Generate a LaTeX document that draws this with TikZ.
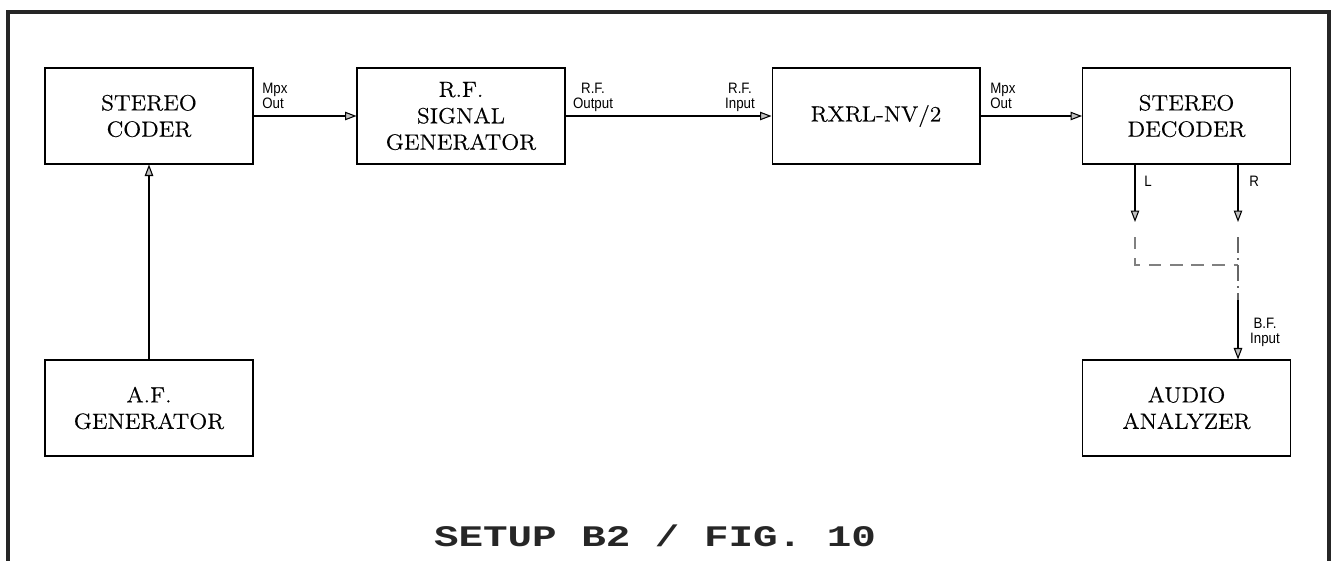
\documentclass[tikz,border=0pt]{standalone}
\usepackage{fontspec}
\newfontfamily\unitfont{Latin Modern Roman}[FakeStretch=1.07, FakeBold=0.4]
\newfontfamily\labelfont{Liberation Sans}[FakeStretch=0.88]
\newfontfamily\titlefont{Liberation Mono}
\usetikzlibrary{calc, positioning}
\usetikzlibrary{arrows.meta}

\tikzset{
  unit/.style={draw, line width=0.6pt, minimum width=4.16cm, minimum height=1.92cm,
    align=center, font=\unitfont\fontsize{12.5}{15}\selectfont},
  sig/.style={-{Triangle[length=2.3mm, width=1.7mm, fill=gray!50]}, line width=0.6pt},
  tag/.style={font=\labelfont\fontsize{8.6}{8.6}\selectfont, inner sep=0pt}
}

\begin{document}
\begin{tikzpicture}[x=0.02cm, y=-0.02cm]
\useasboundingbox (0,0) rectangle (1335,561);
% frame
\draw[line width=1.8pt, black!85] (8,561) -- (8,12) -- (1329,12) -- (1329,561);

% units
\node[unit] (coder) at (149,116) {STEREO\\CODER};
\node[unit] (rfgen) at (461,116) {R.F.\\SIGNAL\\GENERATOR};
\node[unit] (rx) at (876,116) {RXRL-NV/2};
\node[unit] (decoder) at (1186.5,116) {STEREO\\DECODER};
\node[unit] (afgen) at (149,408) {A.F.\\GENERATOR};
\node[unit] (analyzer) at (1186.5,408) {AUDIO\\ANALYZER};

% signal path
\draw[sig] (afgen) -- (coder);
\draw[sig] (coder) -- (rfgen);
\draw[sig] (rfgen) -- (rx);
\draw[sig] (rx) -- (decoder);

\node[tag, anchor=north west, align=left] (mpx1) at (262,83) {Mpx\\Out};
\node[tag, anchor=north, align=center] (rfout) at (593,83) {R.F.\\Output};
\node[tag, anchor=north, align=center] (rfin) at (740,83) {R.F.\\Input};
\node[tag, anchor=north west, align=left] (mpx2) at (990,83) {Mpx\\Out};

% L / R outputs
\coordinate (ltip) at (1135,222);
\coordinate (rtip) at (1238,222);
\coordinate (ltap) at (1135,237);
\coordinate (rtap) at (1238,237);
\coordinate (join) at (1238,265);
\coordinate (bfin) at (1238,300);
\draw[sig] (decoder.south -| ltip) -- (ltip);
\draw[sig] (decoder.south -| rtip) -- (rtip);
\node[tag, anchor=north west] (lout) at (1144,176) {L};
\node[tag, anchor=north west] (rout) at (1249,176) {R};

\draw[dashed, dash pattern=on 7pt off 5pt, line width=0.6pt, gray] (ltap) |- (join);
\draw[dash pattern=on 9pt off 3pt on 1pt off 3pt, line width=0.6pt, gray!80!black] (rtap) -- (bfin);
\draw[sig] (bfin) -- (bfin |- analyzer.north);
\node[tag, anchor=north, align=center] (bftag) at (1265,318) {B.F.\\Input};

% title
\node[font=\titlefont\bfseries\fontsize{17}{20}\selectfont, xscale=1.37, text=black!85] (title) at (655,536) {SETUP B2 / FIG. 10};
\end{tikzpicture}
\end{document}
